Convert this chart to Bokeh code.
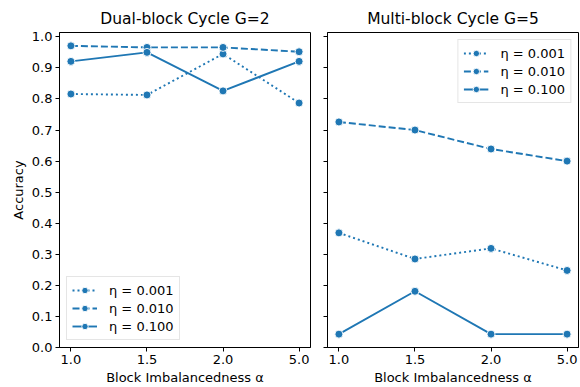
from bokeh.plotting import figure
from bokeh.layouts import row
from bokeh.models import Range1d, FixedTicker, Legend, LegendItem
from bokeh.embed import file_html
from bokeh.resources import INLINE

alphas = ["1.0", "1.5", "2.0", "5.0"]
etas = ["η = 0.001", "η = 0.010", "η = 0.100"]

dual_001 = [0.816, 0.813, 0.945, 0.787]
dual_010 = [0.971, 0.966, 0.966, 0.952]
dual_100 = [0.921, 0.950, 0.826, 0.921]

multi_001 = [0.369, 0.285, 0.319, 0.248]
multi_010 = [0.726, 0.700, 0.639, 0.600]
multi_100 = [0.043, 0.181, 0.043, 0.043]

y_ticks = [0.0, 0.1, 0.2, 0.3, 0.4, 0.5, 0.6, 0.7, 0.8, 0.9, 1.0]

COLOR = "#1f77b4"
FONT = "DejaVu Sans"
dashes = ["2 3", "7 3", "solid"]


def make_fig(title, series, show_ylabels, legend_loc, mb_left, mb_right):
    p = figure(frame_width=251, frame_height=315, output_backend="svg",
               toolbar_location=None, title=title,
               x_range=Range1d(-0.15, len(alphas) - 1 + 0.15),
               y_range=Range1d(0.0, 1.014),
               min_border_left=mb_left, min_border_right=mb_right,
               min_border_top=32, min_border_bottom=40)
    p.title.align = "center"
    p.title.text_font = FONT
    p.title.text_font_size = "15.5px"
    p.title.text_font_style = "normal"
    p.title.text_color = "#000000"
    p.outline_line_color = "#000000"
    p.outline_line_width = 1
    p.grid.visible = False
    xs = list(range(len(alphas)))
    items = []
    for vals, dash, lab in zip(series, dashes, etas):
        l = p.line(xs, vals, line_color=COLOR, line_width=1.9, line_dash=dash)
        s = p.scatter(xs, vals, marker="circle", size=8, fill_color=COLOR,
                      line_color="white", line_width=0.9)
        items.append(LegendItem(label=lab, renderers=[l, s]))
    leg = Legend(items=items, location=legend_loc)
    leg.label_text_font = FONT
    leg.label_text_font_size = "13px"
    leg.label_text_color = "#000000"
    leg.glyph_width = 25
    leg.glyph_height = 16
    leg.label_height = 16
    leg.label_standoff = 12
    leg.spacing = 2
    leg.padding = 5
    leg.margin = 7
    leg.border_line_color = "#cccccc"
    leg.border_line_width = 1
    leg.background_fill_alpha = 0.8
    p.add_layout(leg)

    p.xaxis.ticker = FixedTicker(ticks=xs)
    p.xaxis.major_label_overrides = {i: a for i, a in enumerate(alphas)}
    p.xaxis.axis_label = "Block Imbalancedness α"
    p.yaxis.ticker = FixedTicker(ticks=y_ticks)
    for ax in (p.xaxis, p.yaxis):
        ax.minor_tick_line_color = None
        ax.major_tick_out = 4
        ax.major_tick_in = 0
        ax.major_tick_line_color = "#000000"
        ax.axis_line_color = "#000000"
        ax.major_label_text_font = FONT
        ax.major_label_text_font_size = "13px"
        ax.major_label_text_color = "#000000"
        ax.axis_label_text_font = FONT
        ax.axis_label_text_font_size = "13px"
        ax.axis_label_text_font_style = "normal"
        ax.axis_label_text_color = "#000000"
        ax.axis_label_standoff = 3
        ax.major_label_standoff = 3
    if show_ylabels:
        p.yaxis.axis_label = "Accuracy"
        p.yaxis.major_label_overrides = {t: f"{t:.1f}" for t in y_ticks}
    else:
        p.yaxis.major_label_overrides = {t: "" for t in y_ticks}
    return p


p1 = make_fig("Dual-block Cycle G=2", [dual_001, dual_010, dual_100], True,
              "bottom_left", 59, 8)
p2 = make_fig("Multi-block Cycle G=5", [multi_001, multi_010, multi_100], False,
              "top_right", 9, 2)

layout = row(p1, p2)
open("out.html", "w").write(file_html(layout, INLINE))
